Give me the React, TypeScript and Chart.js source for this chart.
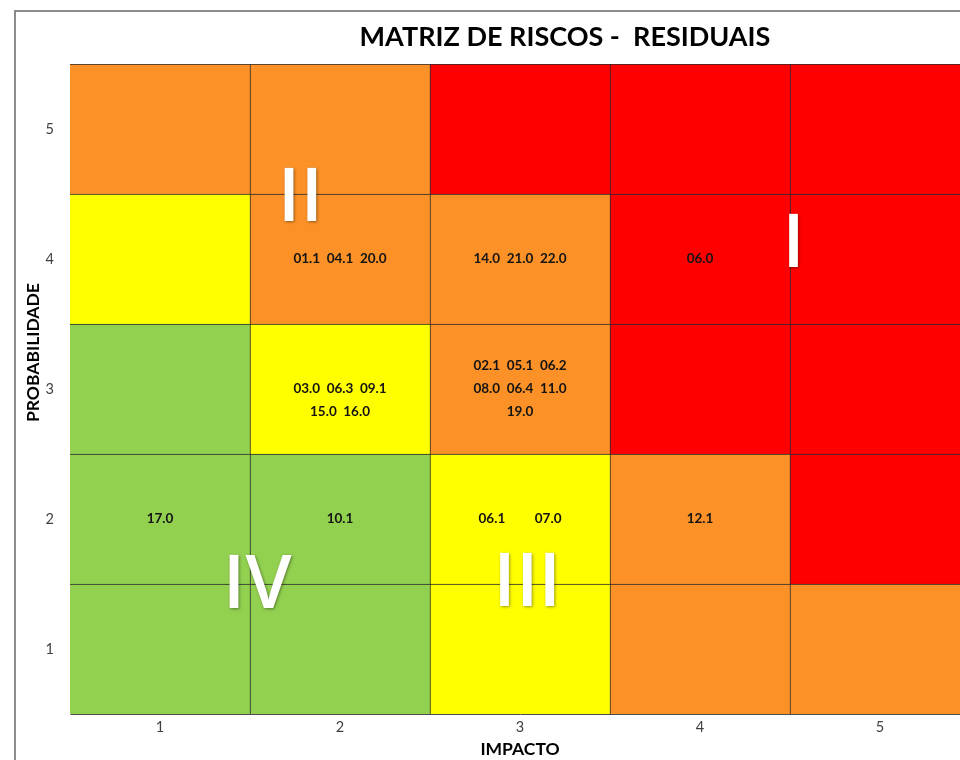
import React, { useEffect, useRef } from 'react';
import { Chart, registerables } from 'chart.js';

Chart.register(...registerables);

// ---------------- data ----------------
const impactLabels = ['1', '2', '3', '4', '5'];
const probabilityLabels = ['1', '2', '3', '4', '5'];

// risk zone (1 = I ... 4 = IV) of each cell, one array per probability, by impact 1..5
const zoneProb1 = [4, 4, 3, 2, 2];
const zoneProb2 = [4, 4, 3, 2, 1];
const zoneProb3 = [4, 3, 2, 1, 1];
const zoneProb4 = [3, 2, 2, 1, 1];
const zoneProb5 = [2, 2, 1, 1, 1];
const zonesByProbability = [zoneProb1, zoneProb2, zoneProb3, zoneProb4, zoneProb5];

// residual risks placed in the matrix
const riskCells = [
  { impact: 2, probability: 4, lines: ['01.1  04.1  20.0'] },
  { impact: 3, probability: 4, lines: ['14.0  21.0  22.0'] },
  { impact: 4, probability: 4, lines: ['06.0'] },
  { impact: 2, probability: 3, lines: ['03.0  06.3  09.1', '15.0  16.0'] },
  { impact: 3, probability: 3, lines: ['02.1  05.1  06.2', '08.0  06.4  11.0', '19.0'] },
  { impact: 1, probability: 2, lines: ['17.0'] },
  { impact: 2, probability: 2, lines: ['10.1'] },
  { impact: 3, probability: 2, lines: ['06.1         07.0'] },
  { impact: 4, probability: 2, lines: ['12.1'] },
];

// zone labels, in grid units (0..5 from the left / bottom of the matrix)
const zoneLabels = [
  { text: 'I', x: 4.02, y: 3.65 },
  { text: 'II', x: 1.28, y: 4.0 },
  { text: 'III', x: 2.54, y: 1.04 },
  { text: 'IV', x: 1.04, y: 1.02 },
];

const chartTitle = 'MATRIZ DE RISCOS -  RESIDUAIS';
const xTitle = 'IMPACTO';
const yTitle = 'PROBABILIDADE';
const yTitleAt = 2.78; // along the probability axis

// ---------------- styles ----------------
const zoneColors: Record<number, string> = {
  1: '#FF0000',
  2: '#FB9127',
  3: '#FFFF00',
  4: '#92D050',
};
const FONT = 'Lato, "Open Sans", sans-serif';
const ZONE_FONT = '"Open Sans", Lato, sans-serif';

const matrixPlugin = {
  id: 'matrixDecor',
  beforeDraw(chart: any) {
    const ctx = chart.ctx;
    ctx.save();
    ctx.fillStyle = '#ffffff';
    ctx.fillRect(0, 0, chart.width, chart.height);
    ctx.strokeStyle = '#8c8c8c';
    ctx.lineWidth = 2;
    ctx.strokeRect(15, 11, chart.width - 30, chart.height + 40);
    ctx.restore();
  },
  afterDatasetsDraw(chart: any) {
    const ctx = chart.ctx;
    const xs = chart.scales.x;
    const ys = chart.scales.y;
    ctx.save();
    // risk ids
    ctx.fillStyle = '#141414';
    ctx.font = `bold 13.5px ${FONT}`;
    ctx.textAlign = 'center';
    ctx.textBaseline = 'middle';
    const lineGap = 23;
    riskCells.forEach((c) => {
      const cx = xs.getPixelForValue(c.impact - 1);
      const cy = ys.getPixelForValue(c.probability - 0.5);
      const first = -Math.floor((c.lines.length - 1) / 2);
      c.lines.forEach((ln, i) => {
        ctx.fillText(ln, cx, cy + (first + i) * lineGap);
      });
    });
    // zone roman numerals
    ctx.font = `600 74px ${ZONE_FONT}`;
    ctx.textAlign = 'center';
    ctx.textBaseline = 'alphabetic';
    zoneLabels.forEach((z) => {
      // category scale: index i sits at grid unit i + 0.5
      const px = xs.getPixelForValue(z.x - 0.5);
      const py = ys.getPixelForValue(z.y);
      const m = ctx.measureText(z.text);
      const asc = m.actualBoundingBoxAscent || 53;
      const desc = m.actualBoundingBoxDescent || 0;
      const base = py + (asc - desc) / 2;
      ctx.save();
      ctx.shadowColor = 'rgba(0,0,0,0.4)';
      ctx.shadowBlur = 3;
      ctx.shadowOffsetX = 1;
      ctx.shadowOffsetY = 1;
      ctx.fillStyle = '#ffffff';
      ctx.fillText(z.text, px, base);
      ctx.restore();
    });
    ctx.restore();
  },
  afterDraw(chart: any) {
    const ctx = chart.ctx;
    const ys = chart.scales.y;
    ctx.save();
    ctx.fillStyle = '#000000';
    ctx.font = `bold 27px ${FONT}`;
    ctx.textAlign = 'center';
    ctx.textBaseline = 'middle';
    ctx.fillText(chartTitle, chart.width / 2, 37);
    // y axis title
    ctx.font = `bold 17.5px ${FONT}`;
    ctx.translate(33, ys.getPixelForValue(yTitleAt));
    ctx.rotate(-Math.PI / 2);
    ctx.fillText(yTitle, 0, 0);
    ctx.restore();
  },
};

export default function App() {
  const canvasRef = useRef<HTMLCanvasElement | null>(null);

  useEffect(() => {
    document.body.style.margin = '0';
    const canvas = canvasRef.current;
    if (!canvas) return;

    const datasets = probabilityLabels.map((p, pi) => ({
      label: 'Probabilidade ' + p,
      data: impactLabels.map(() => [pi, pi + 1]),
      backgroundColor: zonesByProbability[pi].map((z) => zoneColors[z]),
      borderColor: '#2b2b2b',
      borderWidth: (c: any) => ({ top: 1, left: c.dataIndex === 0 ? 0 : 1, right: 0, bottom: 0 }),
      borderSkipped: false,
      barPercentage: 1,
      categoryPercentage: 1,
      xAxisID: 'x',
      yAxisID: 'y',
    }));

    const chart = new Chart(canvas, {
      type: 'bar',
      data: { labels: impactLabels, datasets },
      options: {
        responsive: false,
        animation: false,
        layout: { padding: { top: 64, right: 160, left: 0, bottom: 0 } },
        plugins: {
          legend: { display: false },
          title: { display: false },
          tooltip: { enabled: false },
        },
        scales: {
          x: {
            type: 'category',
            stacked: true,
            offset: true,
            grid: { display: false, drawTicks: false },
            border: { display: true, color: '#4d4d4d', width: 1 },
            ticks: {
              color: '#404040',
              font: { family: FONT, size: 14.5 },
              padding: 5,
            },
            title: {
              display: true,
              text: xTitle,
              color: '#000000',
              font: { family: FONT, size: 17.5, weight: 'bold' },
              padding: { top: 0, bottom: 0 },
            },
            afterFit(scale: any) {
              scale.height = 46;
            },
          },
          y: {
            type: 'linear',
            stacked: false,
            min: 0,
            max: 5,
            grid: { display: false, drawTicks: false },
            border: { display: true, color: '#a6a6a6', width: 1 },
            afterBuildTicks(scale: any) {
              scale.ticks = probabilityLabels.map((_, i) => ({ value: i + 0.5 }));
            },
            ticks: {
              autoSkip: false,
              color: '#404040',
              font: { family: FONT, size: 14.5 },
              padding: 16,
              callback: (v: any) => probabilityLabels[Math.round(Number(v) - 0.5)],
            },
            title: { display: false },
            afterFit(scale: any) {
              scale.width = 70;
            },
          },
        },
      },
      plugins: [matrixPlugin],
    });

    return () => {
      chart.destroy();
    };
  }, []);

  return (
    <div style={{ width: 960, height: 760, overflow: 'hidden', position: 'relative', background: '#fff' }}>
      <canvas ref={canvasRef} width={1130} height={760} style={{ display: 'block' }} />
    </div>
  );
}
